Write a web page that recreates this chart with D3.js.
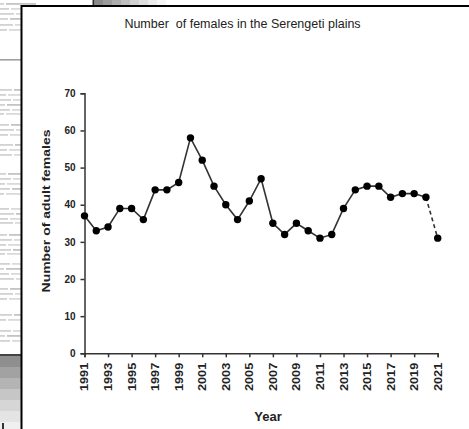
<!DOCTYPE html>
<html><head><meta charset="utf-8">
<script src="https://cdn.jsdelivr.net/npm/d3@7"></script>
<style>html,body{margin:0;padding:0;background:#fff;overflow:hidden}</style>
</head><body>
<svg id="c" width="469" height="429"></svg>
<script>
// ---- data ----
const years = [1991,1992,1993,1994,1995,1996,1997,1998,1999,2000,2001,2002,2003,2004,2005,2006,2007,2008,2009,2010,2011,2012,2013,2014,2015,2016,2017,2018,2019,2020,2021];
const females = [37,33,34,39,39,36,44,44,46,58,52,45,40,36,41,47,35,32,35,33,31,32,39,44,45,45,42,43,43,42,31];
const dashedFromYear = 2020; // last segment is dashed
const yTicks = [0,10,20,30,40,50,60,70];
const xTickLabels = [1991,1993,1995,1997,1999,2001,2003,2005,2007,2009,2011,2013,2015,2017,2019,2021];
const titleText = "Number  of females in the Serengeti plains";
const yTitle = "Number of adult females";
const xTitle = "Year";

const svg = d3.select("#c");
const FONT = "'Liberation Sans', Arial, Helvetica, sans-serif";

// ---- background (blurred scanned page behind the chart) ----
const bg = svg.append("g");
const rows = [3,8,13,18,24,29, 89,94,99,104,109,113, 124,129,134, 144,149,154, 173,178,183,188,193, 208,213,218,222, 234,239,244,249,253, 263,268,273,278, 288,293,298, 314,319, 330,335,340];
rows.forEach((r,i)=>{
  const end = r < 5 ? 36 : 21;
  const cut = 4 + (i*5)%11;
  bg.append("rect").attr("x",0).attr("y",r).attr("width",cut).attr("height",1.8)
    .attr("fill", "#d2d2d2");
  bg.append("rect").attr("x",cut+2).attr("y",r).attr("width",end-cut-2).attr("height",1.8)
    .attr("fill", i%3===0 ? "#c4c4c4" : "#dadada");
});
bg.append("rect").attr("x",0).attr("y",59).attr("width",21).attr("height",1.6).attr("fill","#a0a0a0");
const bands = ["#8f8f8f","#a2a2a2","#b4b4b4","#c6c6c6","#d6d6d6","#e4e4e4","#f0f0f0"];
bands.forEach((c,i)=>{
  bg.append("rect").attr("x",0).attr("y",356+i*11).attr("width",21).attr("height",11).attr("fill",c);
});
bg.append("rect").attr("x",0).attr("y",354).attr("width",21).attr("height",2).attr("fill","#444");
bg.append("rect").attr("x",2).attr("y",423).attr("width",2).attr("height",6).attr("fill","#333");
// top strip
const topBands = ["#8a8a8a","#9c9c9c","#adadad","#bfbfbf","#d0d0d0","#dfdfdf","#ececec","#f6f6f6"];
topBands.forEach((c,i)=>{
  bg.append("rect").attr("x",94+i*9).attr("y",0).attr("width",9).attr("height",6).attr("fill",c);
});
bg.append("rect").attr("x",92.5).attr("y",0).attr("width",1.6).attr("height",6).attr("fill","#333");

// ---- chart box ----
svg.append("rect").attr("x",21.5).attr("y",6).attr("width",460).attr("height",440)
  .attr("fill","#fff").attr("stroke","#000").attr("stroke-width",2);

// ---- scales ----
const x = d3.scaleLinear().domain([1991,2021]).range([84.5,437.7]);
const y = d3.scaleLinear().domain([0,70]).range([353.3,93.3]);

// title
svg.append("text").attr("x",242.5).attr("y",24).attr("text-anchor","middle")
  .attr("dominant-baseline","central").attr("font-family",FONT).attr("font-size",12.5)
  .attr("fill","#222").attr("xml:space","preserve").style("white-space","pre").text(titleText);

// y axis
const yAxis = svg.append("g").attr("transform",`translate(${x.range()[0]},0)`)
  .call(d3.axisLeft(y).tickValues(yTicks).tickSize(4).tickPadding(5).tickFormat(d3.format("d")));
yAxis.select(".domain").attr("stroke","#333").attr("stroke-width",1.5);
yAxis.selectAll(".tick line").attr("stroke","#333").attr("stroke-width",1.5);
yAxis.selectAll(".tick text").attr("font-family",FONT).attr("font-size",10).attr("font-weight","bold").attr("fill","#222");

// x axis
const xAxis = svg.append("g").attr("transform",`translate(0,${y.range()[0]})`)
  .call(d3.axisBottom(x).tickValues(xTickLabels).tickSize(4).tickFormat(d3.format("d")));
xAxis.select(".domain").attr("stroke","#333").attr("stroke-width",1.5);
xAxis.selectAll(".tick line").attr("stroke","#333").attr("stroke-width",1.5);
xAxis.selectAll(".tick text")
  .attr("x",0).attr("y",0).attr("dy",null)
  .attr("transform","translate(0,9.5) rotate(-90) scale(1.27,1)")
  .attr("text-anchor","end").attr("dominant-baseline","central")
  .attr("font-family",FONT).attr("font-size",10).attr("font-weight","bold").attr("fill","#222");

// axis titles
svg.append("text").attr("transform","translate(46.5,211) rotate(-90) scale(1.27,1)")
  .attr("text-anchor","middle").attr("dominant-baseline","central")
  .attr("font-family",FONT).attr("font-size",11).attr("font-weight","bold").attr("fill","#222").text(yTitle);
svg.append("text").attr("x",268).attr("y",416).attr("text-anchor","middle").attr("dominant-baseline","central")
  .attr("font-family",FONT).attr("font-size",13).attr("font-weight","bold").attr("fill","#222").text(xTitle);

// series
const pts = years.map((yr,i)=>({yr, v:females[i]}));
const line = d3.line().x(d=>x(d.yr)).y(d=>y(d.v));
svg.append("path").datum(pts.filter(d=>d.yr<=dashedFromYear)).attr("d",line)
  .attr("fill","none").attr("stroke","#333").attr("stroke-width",1.6);
svg.append("path").datum(pts.filter(d=>d.yr>=dashedFromYear)).attr("d",line)
  .attr("fill","none").attr("stroke","#333").attr("stroke-width",1.6).attr("stroke-dasharray","4,3");
svg.append("g").selectAll("circle").data(pts).join("circle")
  .attr("cx",d=>x(d.yr)).attr("cy",d=>y(d.v)).attr("r",3.7).attr("fill","#000");
</script>
</body></html>
